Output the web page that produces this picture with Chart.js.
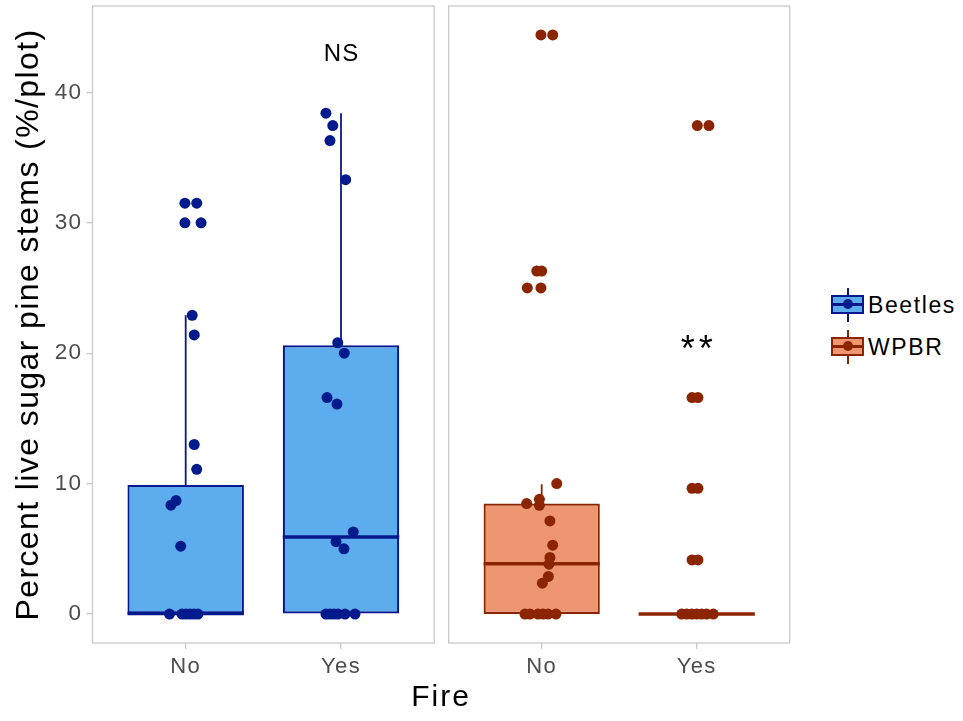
<!DOCTYPE html>
<html>
<head>
<meta charset="utf-8">
<script src="https://cdn.jsdelivr.net/npm/chart.js@4.4.1/dist/chart.umd.min.js"></script>
<style>
  html, body { margin: 0; padding: 0; background: #fff; }
  body { width: 963px; height: 721px; position: relative; overflow: hidden;
         font-family: "Liberation Sans", Arial, sans-serif; }
  .panel { position: absolute; top: 0; height: 721px; }
  #panelBeetles { left: 0; width: 440px; }
  #panelWpbr { left: 440px; width: 360px; }
  #xTitle { position: absolute; left: 341px; width: 200px; top: 681px; text-align: center;
            font-size: 30px; line-height: 30px; letter-spacing: 2px; color: #000; }
  .legend-row { position: absolute; left: 831px; width: 130px; height: 34px; }
  .key { position: absolute; left: 0; top: 0; width: 33px; height: 34px; }
  .key .wh { position: absolute; left: 15.5px; top: 0; width: 2px; height: 34px; }
  .key .bx { position: absolute; left: 0; top: 7px; width: 29px; height: 15px; border: 2px solid; }
  .key .md { position: absolute; left: 0; top: 15px; width: 33px; height: 2.5px; }
  .key .pt { position: absolute; left: 11.5px; top: 11px; width: 10px; height: 10px; border-radius: 50%; }
  .legend-label { position: absolute; left: 37px; top: 17px; transform: translateY(-50%);
                  font-size: 23px; line-height: 26px; letter-spacing: 1.6px; white-space: nowrap; color: #000; }
</style>
</head>
<body>
<div class="panel" id="panelBeetles"><canvas id="beetles-chart"></canvas></div>
<div class="panel" id="panelWpbr"><canvas id="wpbr-chart"></canvas></div>
<div id="xTitle">Fire</div>
<div id="chartLegend"></div>

<script>
const categories = ["No", "Yes"];
const yTicks = [0, 10, 20, 30, 40];
const yMin = -2.22;
const yMax = 46.62;

// box statistics, one value per category (No, Yes)
const beetlesLow = [0, 0];
const beetlesQ1 = [0, 0];
const beetlesMedian = [0.05, 5.9];
const beetlesQ3 = [9.9, 20.6];
const beetlesHigh = [22.9, 38.4];

const wpbrLow = [0, 0];
const wpbrQ1 = [0, 0];
const wpbrMedian = [3.85, 0];
const wpbrQ3 = [8.47, 0];
const wpbrHigh = [9.95, 0];

// plot observations (%/plot) and their horizontal jitter (category units)
const beetlesNo = [31.5, 31.5, 30.0, 30.0, 22.9, 21.4, 13.0, 11.1, 8.7, 8.35, 5.2, 0, 0, 0, 0, 0, 0];
const beetlesNoJitter = [-0.005, 0.071, -0.005, 0.099, 0.042, 0.055, 0.055, 0.071, -0.062, -0.095, -0.032, -0.104, -0.024, 0.002, 0.028, 0.053, 0.079];
const beetlesYes = [38.4, 37.45, 36.3, 33.3, 20.8, 20.0, 16.6, 16.1, 6.3, 5.55, 5.0, 0, 0, 0, 0, 0, 0];
const beetlesYesJitter = [-0.097, -0.053, -0.071, 0.030, -0.021, 0.021, -0.090, -0.026, 0.079, -0.032, 0.019, -0.097, -0.071, -0.045, -0.019, 0.026, 0.090];

const wpbrNo = [44.4, 44.4, 26.3, 26.3, 25.0, 25.0, 10.0, 8.8, 8.47, 8.34, 7.14, 5.28, 4.34, 3.82, 2.88, 2.37, 0, 0, 0, 0, 0, 0];
const wpbrNoJitter = [-0.005, 0.071, -0.032, 0, -0.093, -0.005, 0.097, -0.015, -0.097, -0.015, 0.053, 0.071, 0.053, 0.047, 0.043, 0.004, -0.108, -0.075, -0.024, 0.008, 0.041, 0.092];
const wpbrYes = [37.45, 37.45, 16.6, 16.6, 9.64, 9.64, 4.15, 4.15, 0, 0, 0, 0, 0, 0, 0];
const wpbrYesJitter = [0.004, 0.079, -0.030, 0.008, -0.030, 0.008, -0.030, 0.008, -0.097, -0.064, -0.032, 0, 0.032, 0.064, 0.107];

// significance labels
const beetlesNote = { x: 2, y: 42.9, text: "NS" };
const wpbrNote = { x: 2, y: 20.2, text: "**" };

const FONT = '"Liberation Sans", Arial, sans-serif';
const FRAME = "#c9c9c9";
const TICK_TEXT = "#4d4d4d";
const BOX_HALF = 0.375;

const groups = [
  { name: "Beetles", fill: "#5CACEE", line: "#06188c", point: "#011a8c" },
  { name: "WPBR", fill: "#EE9572", line: "#8B2500", point: "#8B2500" },
];

function boxDatasets(low, q1, med, q3, high, obs, jit, g) {
  const boxes = categories.map((c, i) => ({ x: i + 1, y: [q1[i], q3[i]] }));
  const whiskers = [];
  const medians = [];
  categories.forEach((c, i) => {
    whiskers.push({ x: i + 1, y: q3[i] }, { x: i + 1, y: high[i] }, { x: i + 1, y: null });
    whiskers.push({ x: i + 1, y: q1[i] }, { x: i + 1, y: low[i] }, { x: i + 1, y: null });
    medians.push({ x: i + 1 - BOX_HALF, y: med[i] }, { x: i + 1 + BOX_HALF, y: med[i] }, { x: i + 1, y: null });
  });
  const points = [];
  obs.forEach((vals, i) => {
    vals.forEach((v, k) => points.push({ x: i + 1 + jit[i][k], y: v }));
  });
  return [
    { type: "scatter", data: points, backgroundColor: g.point, pointRadius: 5.5, pointBorderWidth: 0, order: 0 },
    { type: "line", data: medians, borderColor: g.line, borderWidth: 3.5, borderCapStyle: "butt", pointRadius: 0, spanGaps: false, order: 1 },
    { type: "line", data: whiskers, borderColor: g.line, borderWidth: 1.8, pointRadius: 0, spanGaps: false, order: 2 },
    { type: "bar", data: boxes, backgroundColor: g.fill, borderColor: g.line, borderWidth: 2.2, borderSkipped: false,
      categoryPercentage: 0.75, barPercentage: 1, order: 3 },
  ];
}

const panelFrame = {
  id: "panelFrame",
  beforeDraw(chart) {
    chart.ctx.letterSpacing = "1.4px";
  },
  beforeDatasetsDraw(chart) {
    const { ctx, chartArea: a } = chart;
    ctx.save();
    ctx.strokeStyle = FRAME;
    ctx.lineWidth = 1.3;
    ctx.strokeRect(a.left, a.top, a.right - a.left, a.bottom - a.top);
    ctx.restore();
  },
  afterDatasetsDraw(chart, args, opts) {
    const note = opts.note;
    if (!note) return;
    const { ctx, scales } = chart;
    const stars = note.text === "**";
    ctx.save();
    ctx.fillStyle = "#000";
    ctx.font = `${stars ? 36 : 24}px ${FONT}`;
    ctx.letterSpacing = stars ? "4px" : "1px";
    ctx.textAlign = "center";
    ctx.textBaseline = "middle";
    ctx.fillText(note.text, scales.x.getPixelForValue(note.x) + (stars ? 2 : 0.5), scales.y.getPixelForValue(note.y));
    ctx.restore();
  },
};

function xScale() {
  return {
    type: "linear",
    min: 0.4,
    max: 2.6,
    offset: false,
    afterBuildTicks: (s) => { s.ticks = categories.map((c, i) => ({ value: i + 1 })); },
    afterFit: (s) => { s.height = 78; s.paddingLeft = 0; s.paddingRight = 0; },
    grid: { offset: false, drawOnChartArea: false, drawTicks: true, tickLength: 6, color: FRAME, lineWidth: 1.3 },
    border: { display: false },
    ticks: { callback: (v, i) => categories[i], color: TICK_TEXT, font: { size: 22, family: FONT },
             padding: 5, maxRotation: 0, autoSkip: false },
  };
}

function makeChart(id, datasets, note, withY, padding) {
  return new Chart(document.getElementById(id), {
    type: "bar",
    data: { datasets },
    options: {
      responsive: true,
      maintainAspectRatio: false,
      animation: false,
      events: [],
      layout: { padding },
      plugins: { legend: { display: false }, tooltip: { enabled: false }, panelFrame: { note } },
      scales: {
        x: xScale(),
        y: {
          type: "linear",
          min: yMin,
          max: yMax,
          display: withY,
          afterBuildTicks: (s) => { s.ticks = yTicks.map((v) => ({ value: v })); },
          afterFit: (s) => {
            s.width = withY ? 92.5 : 0;
            s.paddingTop = 0;
            s.paddingBottom = 0;
          },
          grid: { drawOnChartArea: false, drawTicks: true, tickLength: 6, color: FRAME, lineWidth: 1.3 },
          border: { display: false },
          ticks: { color: TICK_TEXT, font: { size: 22.5, family: FONT }, padding: 4 },
          title: { display: true, text: "Percent live sugar pine stems (%/plot)", color: "#000",
                   font: { size: 32, family: FONT }, padding: { top: 10, bottom: 0 } },
        },
      },
    },
    plugins: [panelFrame],
  });
}

const chartBeetles = makeChart(
  "beetles-chart",
  boxDatasets(beetlesLow, beetlesQ1, beetlesMedian, beetlesQ3, beetlesHigh,
              [beetlesNo, beetlesYes], [beetlesNoJitter, beetlesYesJitter], groups[0]),
  beetlesNote, true, { left: 0, right: 5.8, top: 6, bottom: 0 }
);

const chartWpbr = makeChart(
  "wpbr-chart",
  boxDatasets(wpbrLow, wpbrQ1, wpbrMedian, wpbrQ3, wpbrHigh,
              [wpbrNo, wpbrYes], [wpbrNoJitter, wpbrYesJitter], groups[1]),
  wpbrNote, false, { left: 8.7, right: 10.3, top: 6, bottom: 0 }
);

// Legend
const legendContainer = document.getElementById("chartLegend");
const legendTops = [288, 330];
groups.forEach((g, index) => {
  const row = document.createElement("div");
  row.className = "legend-row";
  row.style.top = legendTops[index] + "px";
  row.innerHTML = `
    <div class="key">
      <span class="wh" style="background:${g.line}"></span>
      <span class="bx" style="background:${g.fill};border-color:${g.line}"></span>
      <span class="md" style="background:${g.line}"></span>
      <span class="pt" style="background:${g.point}"></span>
    </div>
    <span class="legend-label">${g.name}</span>
  `;
  legendContainer.appendChild(row);
});
</script>
</body>
</html>
